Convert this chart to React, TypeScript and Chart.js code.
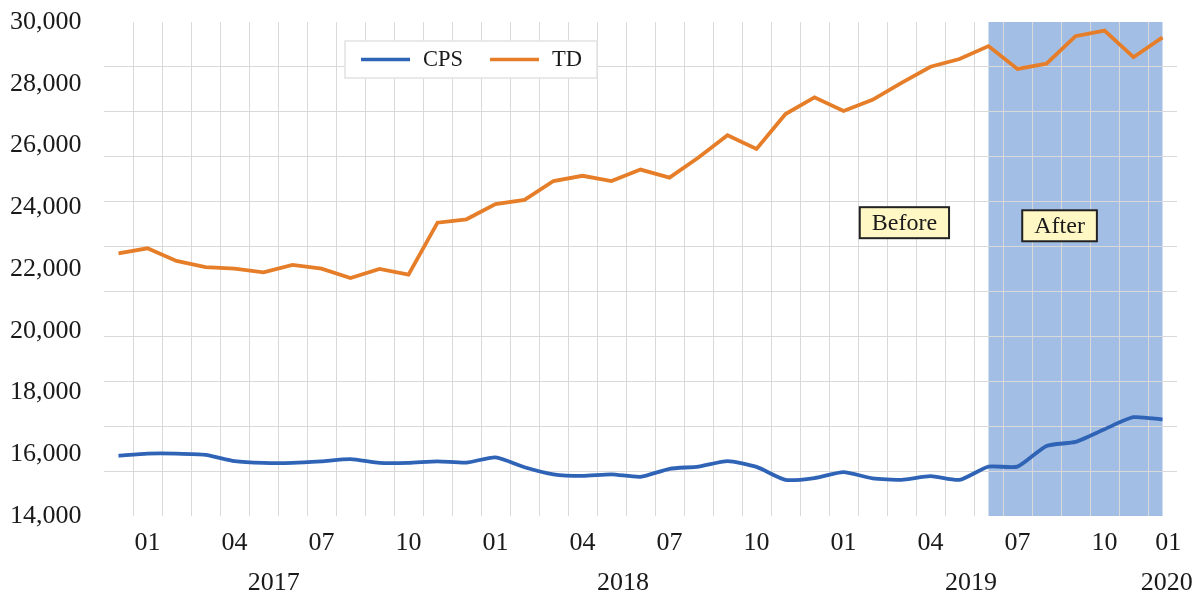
import React, { useEffect, useRef } from 'react';
import { Chart, registerables } from 'chart.js';

Chart.register(...registerables);

// ---------- data ----------
const months = [
  '2016-12',
  '2017-01', '2017-02', '2017-03', '2017-04', '2017-05', '2017-06',
  '2017-07', '2017-08', '2017-09', '2017-10', '2017-11', '2017-12',
  '2018-01', '2018-02', '2018-03', '2018-04', '2018-05', '2018-06',
  '2018-07', '2018-08', '2018-09', '2018-10', '2018-11', '2018-12',
  '2019-01', '2019-02', '2019-03', '2019-04', '2019-05', '2019-06',
  '2019-07', '2019-08', '2019-09', '2019-10', '2019-11', '2019-12',
];

const cpsValues = [
  15950,
  16020, 16020, 15980, 15780, 15720, 15720,
  15770, 15840, 15720, 15720, 15770, 15730,
  15900, 15580, 15350, 15300, 15350, 15270,
  15530, 15600, 15780, 15590, 15170, 15230,
  15420, 15220, 15170, 15290, 15170, 15600,
  15600, 16270, 16400, 16810, 17200, 17130,
];

const tdValues = [
  22510,
  22670, 22260, 22060, 22010, 21890, 22130,
  22010, 21710, 22000, 21820, 23500, 23610,
  24100, 24240, 24850, 25020, 24850, 25220,
  24960, 25610, 26330, 25890, 27020, 27560,
  27120, 27480, 28030, 28550, 28800, 29220,
  28480, 28650, 29540, 29720, 28860, 29500,
];

const seriesNames = ['CPS', 'TD'];

const yMin = 14000;
const yMax = 30000;
const yStep = 2000;
// the reference's horizontal grid does not follow the tick labels: 11 equal bands
const gridBands = 11;

// tick labels, placed in month-index units along the time axis
const monthTickPos = [1, 4, 7, 10, 13, 16, 19, 22, 25, 28, 31, 34, 36.2];
const monthTickText = ['01', '04', '07', '10', '01', '04', '07', '10', '01', '04', '07', '10', '01'];
const yearTickPos = [5.35, 17.4, 29.4, 36.15];
const yearTickText = ['2017', '2018', '2019', '2020'];

const shadedRange = ['2019-06', '2019-12'];

const noteTexts = ['Before', 'After'];
const noteAt = [27.1, 32.45]; // month-index position
const noteValue = [23500, 23400];

// ---------- styles ----------
const FONT = '"Liberation Serif", "Times New Roman", serif';
const COLORS = {
  CPS: '#2F63B6',
  TD: '#E67E29',
  shade: '#A3BEE4',
  grid: '#D9D9D9',
  text: '#1A1A1A',
  noteFill: '#FFF8C4',
  noteBorder: '#222222',
  legendBorder: '#E2E2E2',
};

const shadePlugin = {
  id: 'shadeRegion',
  beforeDraw(chart: any) {
    const { ctx, chartArea, scales } = chart;
    const x0 = scales.x.getPixelForValue(months.indexOf(shadedRange[0]));
    const x1 = scales.x.getPixelForValue(months.indexOf(shadedRange[1]));
    ctx.save();
    ctx.fillStyle = COLORS.shade;
    ctx.fillRect(x0, chartArea.top, x1 - x0, chartArea.bottom - chartArea.top);
    ctx.restore();
  },
};

const overlayPlugin = {
  id: 'overlay',
  afterDatasetsDraw(chart: any) {
    const { ctx, chartArea, scales } = chart;
    ctx.save();

    // notes
    ctx.font = `24px ${FONT}`;
    ctx.textAlign = 'center';
    ctx.textBaseline = 'middle';
    noteTexts.forEach((t, i) => {
      const cx = scales.x.getPixelForValue(noteAt[i]);
      const cy = scales.y.getPixelForValue(noteValue[i]);
      const w = ctx.measureText(t).width + 24;
      const h = 31;
      ctx.fillStyle = COLORS.noteFill;
      ctx.fillRect(cx - w / 2, cy - h / 2, w, h);
      ctx.lineWidth = 2;
      ctx.strokeStyle = COLORS.noteBorder;
      ctx.strokeRect(cx - w / 2, cy - h / 2, w, h);
      ctx.fillStyle = COLORS.text;
      ctx.fillText(t, cx, cy + 1);
    });

    // legend
    ctx.font = `22.5px ${FONT}`;
    const left = chartArea.left + 241;
    const top = chartArea.top + 19;
    const boxH = 37;
    const padL = 16;
    const lineLen = 49;
    const gapText = 13;
    const gapItem = 27;
    const padR = 15;
    const datasets = chart.data.datasets;
    let total = padL;
    datasets.forEach((d: any, i: number) => {
      total += lineLen + gapText + ctx.measureText(d.label).width;
      if (i < datasets.length - 1) total += gapItem;
    });
    total += padR;
    ctx.fillStyle = '#FFFFFF';
    ctx.fillRect(left, top, total, boxH);
    ctx.lineWidth = 1.5;
    ctx.strokeStyle = COLORS.legendBorder;
    ctx.strokeRect(left, top, total, boxH);
    const cy = top + boxH / 2;
    let x = left + padL;
    ctx.textAlign = 'left';
    datasets.forEach((d: any) => {
      ctx.strokeStyle = d.borderColor;
      ctx.lineWidth = 3.5;
      ctx.beginPath();
      ctx.moveTo(x, cy);
      ctx.lineTo(x + lineLen, cy);
      ctx.stroke();
      x += lineLen + gapText;
      ctx.fillStyle = COLORS.text;
      ctx.fillText(d.label, x, cy + 1);
      x += ctx.measureText(d.label).width + gapItem;
    });
    ctx.restore();
  },
};

export default function App() {
  const canvasRef = useRef<HTMLCanvasElement | null>(null);

  useEffect(() => {
    document.body.style.margin = '0';
    document.body.style.overflow = 'hidden';
    const canvas = canvasRef.current;
    if (!canvas) return;

    const transparent = 'rgba(0,0,0,0)';
    const idxMin = -0.5;
    const idxMax = months.length - 0.5;

    const labelAxis = (pos: number[], text: string[], lineHeight: string, height: number, weight: number) => ({
      type: 'linear',
      position: 'bottom',
      min: idxMin,
      max: idxMax,
      weight,
      grid: { display: false, drawTicks: false, tickLength: 0 },
      border: { display: false },
      afterBuildTicks: (s: any) => {
        s.ticks = pos.map((v) => ({ value: v }));
      },
      ticks: {
        autoSkip: false,
        maxRotation: 0,
        minRotation: 0,
        padding: 0,
        color: COLORS.text,
        font: { family: FONT, size: 26, lineHeight },
        callback: (v: any) => {
          const k = pos.indexOf(Number(v));
          return k >= 0 ? text[k] : '';
        },
      },
      afterFit: (s: any) => {
        s.height = height;
      },
    });

    const chart = new Chart(canvas, {
      type: 'line',
      data: {
        labels: months,
        datasets: [
          {
            label: seriesNames[0],
            data: cpsValues,
            borderColor: COLORS.CPS,
            backgroundColor: COLORS.CPS,
            borderWidth: 3.8,
            pointRadius: 0,
            tension: 0.2,
            xAxisID: 'x',
            yAxisID: 'y',
          },
          {
            label: seriesNames[1],
            data: tdValues,
            borderColor: COLORS.TD,
            backgroundColor: COLORS.TD,
            borderWidth: 3.8,
            pointRadius: 0,
            tension: 0,
            xAxisID: 'x',
            yAxisID: 'y',
          },
        ],
      },
      options: {
        responsive: false,
        animation: false,
        devicePixelRatio: 1,
        layout: { padding: { left: 10, right: 19, top: 22, bottom: 0 } },
        font: { family: FONT },
        plugins: {
          legend: { display: false },
          tooltip: { enabled: false },
          title: { display: false },
        },
        scales: {
          y: {
            type: 'linear',
            position: 'left',
            min: yMin,
            max: yMax,
            ticks: {
              stepSize: yStep,
              padding: 0,
              crossAlign: 'far',
              color: COLORS.text,
              font: { family: FONT, size: 26 },
              callback: (v: any) => Number(v).toLocaleString('en-US'),
            },
            grid: { display: false, drawTicks: false },
            border: { display: false },
            afterFit: (s: any) => {
              s.width = 94;
            },
          },
          yGrid: {
            type: 'linear',
            position: 'right',
            min: 0,
            max: gridBands,
            ticks: { display: false, stepSize: 1 },
            grid: {
              drawTicks: false,
              tickLength: 0,
              lineWidth: 1,
              color: (c: any) =>
                c.tick && c.tick.value > 0 && c.tick.value < gridBands ? COLORS.grid : transparent,
            },
            border: { display: false },
            afterFit: (s: any) => {
              s.width = 0;
            },
          },
          x: {
            type: 'category',
            position: 'bottom',
            offset: true,
            weight: 0,
            grid: {
              offset: true,
              drawTicks: false,
              tickLength: 0,
              lineWidth: 1,
              color: (c: any) => (c.type === 'tick' && c.index > 0 ? COLORS.grid : transparent),
            },
            border: { display: false },
            ticks: { display: false, autoSkip: false },
            afterFit: (s: any) => {
              s.height = 0;
            },
          },
          xMonth: labelAxis(monthTickPos, monthTickText, '54px', 54, 1),
          xYear: labelAxis(yearTickPos, yearTickText, '27px', 24, 2),
        },
      } as any,
      plugins: [shadePlugin, overlayPlugin],
    });

    return () => {
      chart.destroy();
    };
  }, []);

  return (
    <div style={{ width: 1196, height: 594, background: '#FFFFFF' }}>
      <canvas ref={canvasRef} width={1196} height={594} style={{ display: 'block' }} />
    </div>
  );
}
